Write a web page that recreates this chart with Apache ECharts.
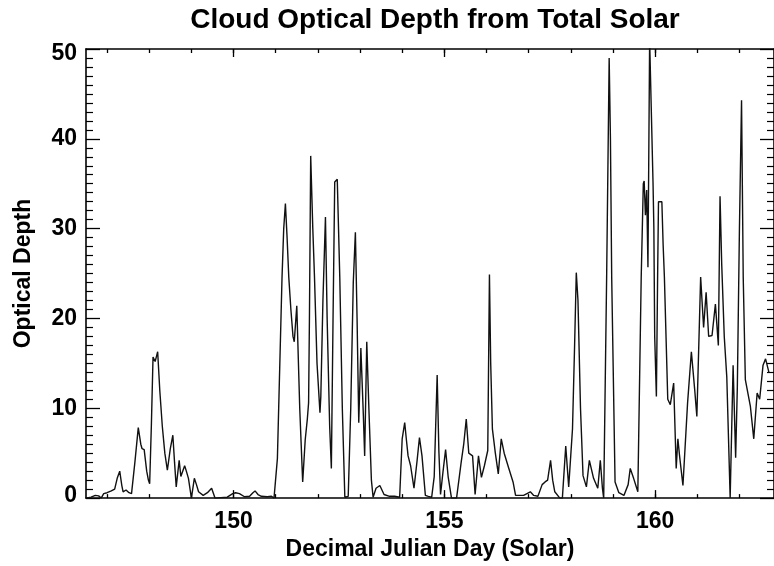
<!DOCTYPE html>
<html>
<head>
<meta charset="utf-8">
<title>Cloud Optical Depth from Total Solar</title>
<script src="https://cdn.jsdelivr.net/npm/echarts@6.0.0/dist/echarts.min.js"></script>
<style>
  html, body { margin: 0; padding: 0; background: #fff; }
  #chart { width: 774px; height: 566px; }
</style>
</head>
<body>
<div id="chart"></div>
<script>
// Decimal Julian day (solar) of each sample
const days = [
  146.50, 146.62, 146.72, 146.80, 146.86, 146.92, 147.00, 147.10, 147.18, 147.24,
  147.30, 147.35, 147.38, 147.45, 147.52, 147.58, 147.66, 147.74, 147.80, 147.83,
  147.88, 147.94, 147.98, 148.01, 148.05, 148.09, 148.14, 148.20, 148.25, 148.31,
  148.37, 148.43, 148.50, 148.56, 148.60, 148.64, 148.71, 148.75, 148.78, 148.84,
  148.88, 148.93, 149.00, 149.07, 149.12, 149.17, 149.28, 149.38, 149.48, 149.56,
  149.70, 149.85, 149.98, 150.05, 150.14, 150.26, 150.38, 150.46, 150.51, 150.58,
  150.66, 150.80, 150.90, 150.96, 151.04, 151.10, 151.15, 151.19, 151.23, 151.27,
  151.31, 151.36, 151.41, 151.44, 151.50, 151.57, 151.64, 151.70, 151.75, 151.78,
  151.80, 151.83, 151.88, 151.92, 151.98, 152.05, 152.07, 152.12, 152.18, 152.22,
  152.28, 152.32, 152.36, 152.40, 152.46, 152.52, 152.58, 152.64, 152.68, 152.72,
  152.78, 152.84, 152.89, 152.93, 152.97, 153.02, 153.08, 153.11, 153.16, 153.21,
  153.27, 153.31, 153.38, 153.47, 153.57, 153.70, 153.82, 153.94, 154.00, 154.06,
  154.10, 154.14, 154.20, 154.28, 154.35, 154.41, 154.47, 154.55, 154.62, 154.70,
  154.76, 154.83, 154.87, 154.91, 154.97, 155.03, 155.09, 155.17, 155.29, 155.40,
  155.46, 155.52, 155.58, 155.67, 155.73, 155.81, 155.88, 155.95, 156.03, 156.07,
  156.10, 156.14, 156.21, 156.28, 156.35, 156.42, 156.53, 156.63, 156.69, 156.80,
  156.88, 156.96, 157.04, 157.12, 157.22, 157.32, 157.39, 157.45, 157.52, 157.57,
  157.62, 157.74, 157.80, 157.88, 157.95, 158.04, 158.09, 158.13, 158.17, 158.23,
  158.29, 158.37, 158.44, 158.54, 158.64, 158.70, 158.75, 158.78, 158.85, 158.91,
  158.94, 158.97, 159.05, 159.14, 159.26, 159.36, 159.41, 159.49, 159.59, 159.67,
  159.72, 159.74, 159.77, 159.80, 159.83, 159.87, 159.90, 159.95, 159.97, 159.99,
  160.03, 160.06, 160.08, 160.16, 160.19, 160.22, 160.30, 160.36, 160.44, 160.50,
  160.54, 160.58, 160.66, 160.77, 160.86, 160.94, 160.99, 161.08, 161.10, 161.15,
  161.21, 161.27, 161.35, 161.43, 161.50, 161.54, 161.58, 161.64, 161.70, 161.78,
  161.85, 161.91, 161.95, 162.00, 162.05, 162.09, 162.14, 162.26, 162.34, 162.42,
  162.48, 162.56, 162.62, 162.70
];

// Cloud optical depth retrieved from total solar irradiance
const depth = [
  0.0, 0.1, 0.3, 0.25, 0.0, 0.5, 0.6, 0.8, 1.0, 2.2,
  3.0, 1.4, 0.7, 0.9, 0.6, 0.5, 4.0, 7.85, 6.0, 5.5,
  5.4, 3.0, 2.0, 1.6, 8.0, 15.7, 15.2, 16.3, 12.0, 8.0,
  5.0, 3.1, 5.5, 7.0, 4.0, 1.25, 4.2, 2.4, 2.2, 3.6,
  3.0, 2.2, 0.0, 2.2, 1.5, 0.7, 0.3, 0.6, 1.1, 0.0,
  0.05, 0.1, 0.5, 0.6, 0.5, 0.15, 0.2, 0.6, 0.8, 0.4,
  0.2, 0.15, 0.2, 0.0, 4.4, 15.4, 24.6, 30.0, 32.8, 29.0,
  24.6, 21.0, 18.0, 17.4, 21.4, 10.0, 1.8, 6.5, 8.8, 10.6,
  20.0, 38.1, 30.0, 24.6, 15.0, 9.5, 11.3, 22.0, 31.3, 20.0,
  8.0, 3.3, 20.0, 35.2, 35.5, 24.6, 10.0, 0.1, 0.3, 0.2,
  10.0, 24.0, 29.6, 20.0, 8.4, 16.7, 9.1, 4.7, 17.4, 10.0,
  2.0, 0.1, 1.1, 1.4, 0.4, 0.2, 0.2, 0.1, 6.6, 8.4,
  6.5, 4.7, 3.6, 1.1, 4.0, 6.75, 4.7, 0.3, 0.2, 0.1,
  2.4, 13.7, 5.3, 0.4, 3.0, 5.4, 2.4, 0.0, 0.0, 4.0,
  6.0, 8.8, 5.0, 4.7, 0.4, 4.7, 2.3, 3.6, 5.3, 24.9,
  15.0, 7.7, 5.0, 2.7, 6.6, 5.0, 3.3, 1.8, 0.3, 0.3,
  0.3, 0.5, 0.7, 0.3, 0.2, 1.5, 1.8, 2.0, 4.2, 2.0,
  0.7, 0.0, 0.0, 5.8, 1.25, 7.7, 17.0, 25.1, 22.0, 10.0,
  2.5, 1.25, 4.2, 2.2, 1.1, 4.2, 1.1, 0.0, 24.6, 49.0,
  40.0, 24.6, 1.8, 0.6, 0.3, 1.5, 3.3, 2.2, 0.7, 24.6,
  35.0, 35.3, 31.5, 34.3, 25.7, 51.0, 51.0, 35.2, 30.1, 18.0,
  11.3, 25.0, 33.0, 33.0, 28.2, 24.6, 11.0, 10.4, 12.8, 3.3,
  6.6, 4.7, 1.4, 10.6, 16.3, 12.0, 9.1, 24.6, 24.7, 19.0,
  22.9, 18.0, 18.1, 21.6, 17.0, 33.6, 26.0, 18.0, 13.5, 0.0,
  14.8, 4.5, 12.3, 30.0, 44.3, 24.6, 13.2, 10.2, 6.6, 11.7,
  11.0, 14.8, 15.5, 14.0
];

// Tick positions
const dayMajorTicks = [150, 155, 160];
const dayMinorTicks = [147, 148, 149, 150, 151, 152, 153, 154, 155, 156, 157, 158, 159, 160, 161, 162];
const depthMin = 0;
const depthMax = 50;
const depthStep = 10;

const dayMin = 146.5;
const dayMax = 162.82;

const ink = '#000';
const fontFamily = '"Liberation Sans", Arial, Helvetica, sans-serif';
const tickFont = { fontFamily: fontFamily, fontWeight: 'bold', fontSize: 23, color: ink };
const axisLineStyle = { color: ink, width: 1.6 };

function dayAxis(position, tickValues, tickLen, withLine, withLabels) {
  const ax = {
    type: 'value',
    min: dayMin,
    max: dayMax,
    position: position,
    axisLine: { show: withLine, onZero: false, lineStyle: axisLineStyle },
    axisTick: { show: true, inside: true, length: tickLen, customValues: tickValues, lineStyle: { color: ink, width: 1.3 } },
    axisLabel: { show: false },
    splitLine: { show: false }
  };
  if (withLabels) {
    ax.axisLabel = Object.assign({ show: true, margin: 12, customValues: dayMajorTicks }, tickFont);
    ax.name = 'Decimal Julian Day (Solar)';
    ax.nameLocation = 'middle';
    ax.nameGap = 36;
    ax.nameTextStyle = { fontFamily: fontFamily, fontWeight: 'bold', fontSize: 23, color: ink };
  }
  return ax;
}

function depthAxis(position, withLabels) {
  const ax = {
    type: 'value',
    min: depthMin,
    max: depthMax,
    interval: depthStep,
    position: position,
    axisLine: { show: true, onZero: false, lineStyle: axisLineStyle },
    axisTick: { show: true, inside: true, length: 14, lineStyle: { color: ink, width: 1.3 } },
    minorTick: { show: true, splitNumber: 10, length: 7, lineStyle: { color: ink, width: 1.2 } },
    axisLabel: { show: false },
    splitLine: { show: false },
    minorSplitLine: { show: false }
  };
  if (withLabels) {
    ax.axisLabel = Object.assign({
      show: true,
      margin: 9,
      formatter: function (v) {
        if (v === depthMin) return '{lo|' + v + '}';
        if (v === depthMax) return '{hi|' + v + '}';
        return String(v);
      },
      rich: {
        lo: Object.assign({ padding: [0, 0, 4, 0] }, tickFont),
        hi: Object.assign({ padding: [10, 0, 0, 0] }, tickFont)
      }
    }, tickFont);
    ax.name = 'Optical Depth';
    ax.nameLocation = 'middle';
    ax.nameGap = 51;
    ax.nameTextStyle = { fontFamily: fontFamily, fontWeight: 'bold', fontSize: 23, color: ink };
  }
  return ax;
}

const chart = echarts.init(document.getElementById('chart'), null, { renderer: 'canvas' });

chart.setOption({
  animation: false,
  backgroundColor: '#fff',
  title: {
    text: 'Cloud Optical Depth from Total Solar',
    left: 435,
    top: 6,
    padding: 0,
    textAlign: 'center',
    textStyle: { fontFamily: fontFamily, fontWeight: 'bold', fontSize: 28, color: ink }
  },
  grid: { left: 86, right: -10, top: 49, bottom: 63 },
  xAxis: [
    dayAxis('bottom', dayMinorTicks, 4, true, true),
    dayAxis('bottom', dayMajorTicks, 8, false, false),
    dayAxis('top', dayMinorTicks, 4, true, false),
    dayAxis('top', dayMajorTicks, 8, false, false)
  ],
  yAxis: [
    depthAxis('left', true),
    depthAxis('right', false)
  ],
  series: [{
    type: 'line',
    xAxisIndex: 0,
    yAxisIndex: 0,
    data: days.map(function (d, i) { return [d, depth[i]]; }),
    symbol: 'none',
    showSymbol: false,
    clip: true,
    lineStyle: { color: '#111', width: 1.4 }
  }]
});
</script>
</body>
</html>
